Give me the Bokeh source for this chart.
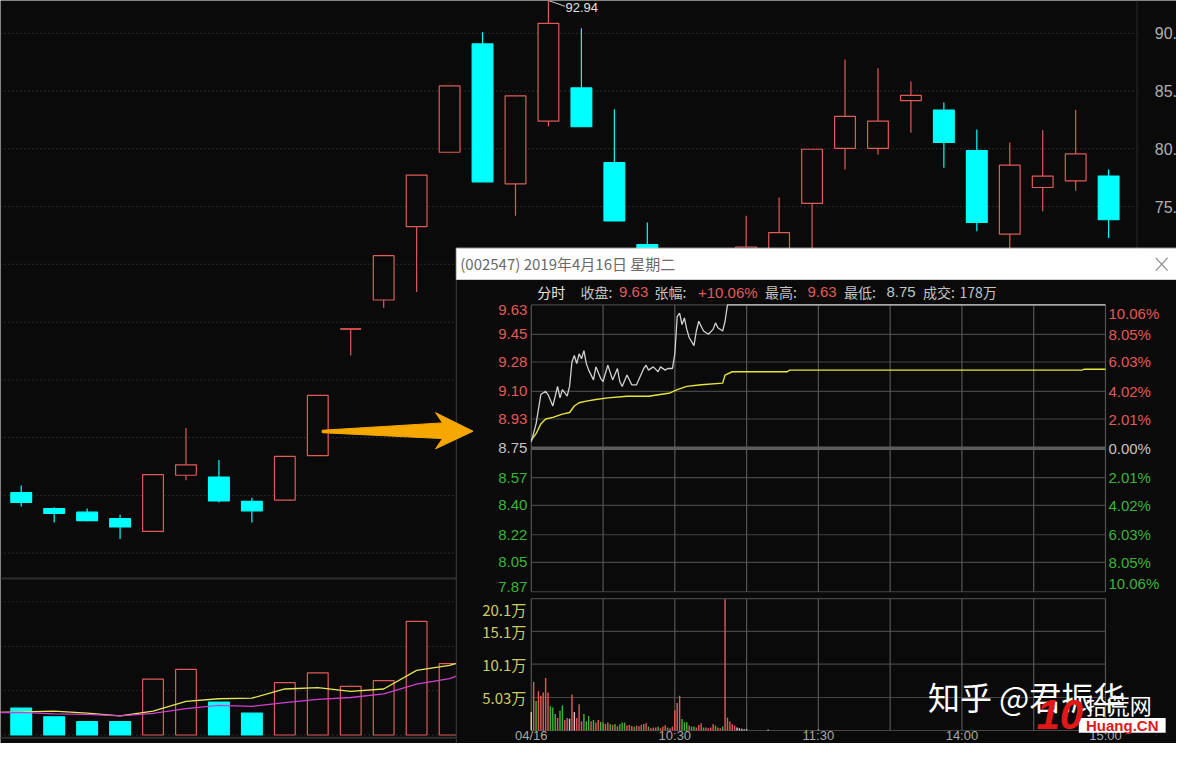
from bokeh.plotting import figure
from bokeh.models import Range1d, ColumnDataSource
from bokeh.embed import file_html
from bokeh.resources import INLINE
from bokeh.core.properties import value

# ---------------- data: daily candles (background chart) ----------------
day_idx = list(range(1, 35))
day_open = [50.24, 48.86, 48.54, 47.98, 46.88, 51.74, 51.59, 49.47, 49.59, 53.43,
            64.40, 66.91, 73.26, 79.70, 89.08, 76.97, 82.39, 85.27, 78.80, 71.71,
            68.30, 66.20, 68.60, 70.20, 75.27, 80.04, 80.04, 84.17, 83.35, 79.85,
            72.61, 76.65, 77.22, 77.64]
day_close = [49.39, 48.43, 47.81, 47.27, 51.80, 52.64, 49.51, 48.66, 53.37, 58.66,
             64.40, 70.75, 77.73, 85.44, 77.14, 84.59, 90.86, 81.91, 73.75, 68.50,
             66.00, 68.40, 71.50, 72.75, 79.96, 82.81, 82.39, 84.62, 80.55, 73.63,
             78.58, 77.64, 79.56, 73.86]
day_high = [50.86, 48.97, 48.86, 48.32, 51.80, 55.83, 53.07, 49.79, 53.37, 58.66,
            64.40, 70.75, 77.73, 85.44, 90.10, 84.59, 92.94, 90.44, 83.43, 73.63,
            69.50, 70.10, 74.20, 75.78, 79.96, 87.73, 86.97, 85.83, 84.00, 81.68,
            80.55, 81.60, 83.37, 78.20]
day_low = [49.03, 47.64, 47.75, 46.23, 46.88, 51.31, 49.39, 47.64, 49.59, 53.43,
           62.10, 66.23, 67.61, 79.70, 77.14, 74.20, 81.93, 81.91, 73.75, 67.80,
           65.20, 65.60, 67.90, 69.50, 70.80, 78.20, 79.48, 81.40, 78.37, 72.86,
           71.40, 74.59, 76.37, 72.27]
bg_price_grid = [90, 85, 80, 75, 70, 65, 60, 55, 50, 45]
bg_price_labels = ["90.", "85.", "80.", "75."]
bg_label_vals = [90, 85, 80, 75]
peak_label = "92.94"
peak_day = 17

# daily volume (万) and its moving averages
vol_idx = list(range(1, 15))
day_vol = [76.8, 52.3, 38.2, 38.2, 160, 188, 94.5, 62.7, 150, 178, 139.5, 156, 326, 205]
ma_idx = list(range(0, 16))
vol_ma5 = [64.4, 66.3, 68.3, 62.7, 55.1, 68.3, 96.4, 104.0, 105.7, 132.0, 135.7, 125.3,
           132.0, 185.5, 199.5, 228]
vol_ma10 = [64.4, 64.6, 60.7, 59.0, 55.1, 61.8, 75.9, 85.1, 82.3, 92.7, 102.0, 107.6,
            118.0, 146.1, 161.9, 196]
bg_vol_grid = [0, 127, 254, 382]

# ---------------- data: intraday popup (2019-04-16) ----------------
title_text = "(002547) 2019年4月16日 星期二"
prev_close = 8.75
close_px = "9.63"
chg_txt = "+10.06%"
high_px = "9.63"
low_px = "8.75"
amount_txt = "178万"

price_ticks = [9.63, 9.45, 9.28, 9.10, 8.93, 8.75, 8.57, 8.40, 8.22, 8.05, 7.87]
price_labels = ["9.63", "9.45", "9.28", "9.10", "8.93", "8.75", "8.57", "8.40", "8.22", "8.05", "7.87"]
pct_labels = ["10.06%", "8.05%", "6.03%", "4.02%", "2.01%", "0.00%", "2.01%", "4.02%",
              "6.03%", "8.05%", "10.06%"]
vol_ticks = [20.1, 15.1, 10.1, 5.03]
vol_tick_labels = ["20.1万", "15.1万", "10.1万", "5.03万"]
minute_grid = [0, 30, 60, 90, 120, 150, 180, 210, 240]
time_ticks = [0, 60, 120, 180, 240]
time_labels = ["04/16", "10:30", "11:30", "14:00", "15:00"]

ip_min = [0, 2, 4, 6, 7, 9, 11, 12, 13, 15, 16, 17, 18, 19, 20, 21, 22, 23, 24, 26, 27, 29,
          30, 32, 34, 36, 37, 38, 40, 42, 44, 47, 48, 49, 51, 53, 54, 56, 57, 59, 60, 61,
          62, 63, 64, 65, 66, 68, 69, 70, 72, 74, 76, 77, 78, 80, 81, 82, 240]
ip_price = [8.79, 8.90, 9.08, 9.10, 9.08, 9.01, 9.13, 9.06, 9.11, 9.07, 9.13, 9.28, 9.32,
            9.27, 9.33, 9.30, 9.35, 9.27, 9.23, 9.17, 9.25, 9.18, 9.16, 9.26, 9.17, 9.24,
            9.16, 9.13, 9.20, 9.14, 9.14, 9.24, 9.26, 9.23, 9.25, 9.22, 9.25, 9.23, 9.24,
            9.24, 9.33, 9.56, 9.58, 9.51, 9.55, 9.48, 9.43, 9.38, 9.47, 9.53, 9.47, 9.45,
            9.48, 9.52, 9.49, 9.47, 9.53, 9.63, 9.63]
avg_min = [0, 2, 4, 6, 9, 13, 16, 18, 20, 23, 27, 32, 40, 49, 58, 61, 65, 71, 80, 81, 84,
           90, 107, 108, 230, 231, 240]
avg_price = [8.80, 8.84, 8.90, 8.93, 8.94, 8.96, 8.97, 9.01, 9.03, 9.04, 9.05, 9.06, 9.07,
             9.07, 9.09, 9.11, 9.13, 9.14, 9.15, 9.20, 9.22, 9.22, 9.22, 9.23, 9.23, 9.235,
             9.235]

iv_min = list(range(0, 91)) + [99, 115, 120]
iv_vol = [2.8, 7.4, 4.5, 6.0, 5.3, 5.8, 8.0, 5.8, 3.7, 3.5,
          2.5, 1.9, 3.0, 3.8, 1.6, 1.9, 1.8, 5.5, 2.8, 1.9,
          4.0, 1.4, 2.5, 1.4, 2.2, 1.4, 1.6, 1.2, 1.6, 1.3,
          1.2, 1.0, 1.2, 0.95, 0.85, 1.0, 0.65, 0.95, 1.2, 1.2,
          0.75, 0.85, 0.7, 0.55, 0.75, 0.65, 0.85, 1.0, 1.1, 0.6,
          0.35, 0.45, 0.45, 0.55, 0.35, 0.6, 0.8, 0.45, 0.35, 0.6,
          3.1, 4.2, 5.3, 1.75, 1.25, 1.25, 0.75, 0.6, 0.6, 0.45,
          0.85, 1.1, 0.45, 0.45, 0.35, 0.45, 0.95, 0.75, 0.45, 0.35,
          0.6, 20.0, 1.95, 1.35, 0.95, 0.75, 0.45, 0.35, 0.25, 0.2,
          0.2, 0.15, 0.1, 0.15]
# r = up minute (red), g = down minute (green), w = unchanged
iv_dir = ("wrgrrrrrgg" + "grggrrwrwr" + "rrgggrgrrg" + "grrgrgrggg" + "rrrgrrrrrg"
          + "rrrgrrrgrr" + "rrrgggrggr" + "rrgrrrrgrr" + "grrrrrwwww" + "w" + "www")

watermark = "知乎 @君振华"

# ---------------- styling / layout ----------------
RW, RH = 1192, 759          # reference layout space (pixels)
W, H = 1176, 743
BG = "#0a0a0a"
RED = "#e05a5a"
CYAN = "#00ffff"
GREEN = "#3cb43c"
GREY_TXT = "#c4c4c4"
LAT = "Liberation Sans"
CJK = "Noto Sans CJK SC"


def xmap(d0, p0, d1, p1):
    k = (d1 - d0) / (p1 - p0)
    return Range1d(start=d0 - p0 * k, end=d0 + (RW - p0) * k)


def ymap(d_top, p_top, d_bot, p_bot):
    k = (d_top - d_bot) / (p_bot - p_top)
    return Range1d(start=d_bot - (RH - p_bot) * k, end=d_bot + p_bot * k)


p = figure(width=W, height=H, x_range=Range1d(0, RW), y_range=Range1d(RH, 0),
           output_backend="svg", toolbar_location=None, min_border=0,
           x_axis_location=None, y_axis_location=None,
           background_fill_color=BG, border_fill_color=BG, outline_line_color=None)
for g in p.grid:
    g.visible = False

p.extra_x_ranges = {"bg": xmap(1, 21, 34, 1123.2), "id": xmap(0, 538, 240, 1120)}
p.extra_y_ranges = {"bgp": ymap(90, 33.5, 45, 564.5), "bgv": ymap(382, 614.3, 0, 750.3),
                    "idp": ymap(9.63, 311, 7.87, 604), "idv": ymap(20.1, 611, 0, 745.7)}


def txt(x, y, s, color, size, font=LAT, align="left", baseline="middle",
        xr="default", yr="default", style="normal", x_offset=0):
    n = len(s)
    p.text(x=x if isinstance(x, list) else [x] * n, y=y if isinstance(y, list) else [y] * n,
           text=s, text_color=color, text_font=value(font), text_font_size=f"{size}px",
           text_align=align, text_baseline=baseline, x_range_name=xr, y_range_name=yr,
           text_font_style=style, x_offset=x_offset)


# ---------------- background daily chart ----------------
BG_RIGHT = 1152
p.segment(x0=0, x1=BG_RIGHT, y0=bg_price_grid, y1=bg_price_grid, y_range_name="bgp",
          line_color="#4a4a4a", line_dash="1 3", line_width=1)
p.segment(x0=0, x1=BG_RIGHT, y0=bg_vol_grid, y1=bg_vol_grid, y_range_name="bgv",
          line_color="#4a4a4a", line_dash="1 3", line_width=1)
p.segment(x0=[0, 0], x1=[BG_RIGHT, BG_RIGHT], y0=[590.5, 753], y1=[590.5, 753],
          line_color="#2e2e2e", line_width=2)
p.segment(x0=[BG_RIGHT], x1=[BG_RIGHT], y0=[0], y1=[RH], line_color="#2a2a2a", line_width=1)

up = [c >= o for o, c in zip(day_open, day_close)]
csrc = ColumnDataSource(dict(
    x=day_idx, h=day_high, l=day_low,
    top=[max(o, c) for o, c in zip(day_open, day_close)],
    bot=[min(o, c) for o, c in zip(day_open, day_close)],
    color=[RED if u else CYAN for u in up],
    fill=[BG if u else CYAN for u in up]))
p.segment(x0="x", x1="x", y0="h", y1="l", line_color="color", line_width=1.2,
          source=csrc, x_range_name="bg", y_range_name="bgp")
p.vbar(x="x", top="top", bottom="bot", width=0.63, fill_color="fill", line_color="color",
       line_width=1.2, source=csrc, x_range_name="bg", y_range_name="bgp")
doji = [i for i, (o, c) in enumerate(zip(day_open, day_close)) if o == c]
p.segment(x0=[day_idx[i] - 0.315 for i in doji], x1=[day_idx[i] + 0.315 for i in doji],
          y0=[day_close[i] for i in doji], y1=[day_close[i] for i in doji],
          line_color=RED, line_width=1.5, x_range_name="bg", y_range_name="bgp")

# peak annotation
pk = day_idx.index(peak_day)
p.segment(x0=[peak_day], y0=[day_high[pk] - 0.1], x1=[peak_day + 0.5], y1=[day_high[pk] - 0.6],
          line_color="#d0d0d0", line_width=1, x_range_name="bg", y_range_name="bgp")
txt(peak_day, day_high[pk] - 0.3, [peak_label], "#e0e0e0", 13, baseline="top",
    xr="bg", yr="bgp", x_offset=17)
txt(1170, bg_label_vals, bg_price_labels, "#b0b0b0", 16, yr="bgp")

# volume bars + MAs
vup = [up[day_idx.index(d)] for d in vol_idx]
p.vbar(x=vol_idx, top=day_vol, bottom=0, width=0.63,
       fill_color=[BG if u else CYAN for u in vup], line_color=[RED if u else CYAN for u in vup],
       line_width=1.2, x_range_name="bg", y_range_name="bgv")
p.line(ma_idx, vol_ma5, line_color="#e6e65a", line_width=1.3, x_range_name="bg", y_range_name="bgv")
p.line(ma_idx, vol_ma10, line_color="#d040d0", line_width=1.3, x_range_name="bg", y_range_name="bgv")

# ---------------- popup ----------------
p.quad(left=[462], right=[RW + 5], top=[285], bottom=[RH + 5], fill_color=BG,
       line_color="#3c3c3c", line_width=1)
p.quad(left=[462], right=[RW + 5], top=[253], bottom=[285], fill_color="#ffffff",
       line_color="#d0d0d0")
txt(466, 269, [title_text], "#6a6a6a", 15, font=CJK)
p.segment(x0=[1171, 1171], y0=[263, 276], x1=[1183, 1183], y1=[276, 263],
          line_color="#8a8a8a", line_width=1.2)

# arrow (decoration)
p.patch(x=[326, 448, 441, 479, 441, 448, 326], y=[439, 431.5, 421, 440, 458, 447.5, 441.5],
        fill_color="#f7a800", line_color="#f7a800", line_width=1)

# header row
hy = 298
txt(544, hy, ["分时"], "#e6e6e6", 14, font=CJK)
txt(588, hy, ["收盘:"], GREY_TXT, 14, font=CJK)
txt(627, hy, [close_px], RED, 15)
txt(663, hy, ["张幅:"], GREY_TXT, 14, font=CJK)
txt(707, hy, [chg_txt], RED, 15)
txt(775, hy, ["最高:"], GREY_TXT, 14, font=CJK)
txt(818, hy, [high_px], RED, 15)
txt(855, hy, ["最低:"], GREY_TXT, 14, font=CJK)
txt(898, hy, [low_px], GREY_TXT, 15)
txt(935, hy, ["成交:"], GREY_TXT, 14, font=CJK)
txt(972, hy, [amount_txt], GREY_TXT, 14, font=CJK)

# price panel grid
p.segment(x0=0, x1=240, y0=price_ticks, y1=price_ticks, line_color="#444444",
          line_width=1.2, x_range_name="id", y_range_name="idp")
p.segment(x0=minute_grid, x1=minute_grid, y0=price_ticks[-1], y1=price_ticks[0],
          line_color="#555555", line_width=1.2, x_range_name="id", y_range_name="idp")
p.segment(x0=[0], x1=[240], y0=[prev_close], y1=[prev_close], line_color="#5c5c5c",
          line_width=3.5, x_range_name="id", y_range_name="idp")

# volume panel grid
vgrid = [0] + vol_ticks
p.segment(x0=0, x1=240, y0=vgrid, y1=vgrid, line_color="#444444", line_width=1.2,
          x_range_name="id", y_range_name="idv")
p.segment(x0=minute_grid, x1=minute_grid, y0=0, y1=vol_ticks[0], line_color="#555555",
          line_width=1.2, x_range_name="id", y_range_name="idv")


# tick labels (price / percent)
def col_for(v):
    return RED if v > prev_close + 1e-9 else (GREEN if v < prev_close - 1e-9 else GREY_TXT)


pcols = [col_for(v) for v in price_ticks]
for i, (v, lab, pl) in enumerate(zip(price_ticks, price_labels, pct_labels)):
    bl = "top" if i == 0 else ("bottom" if i == len(price_ticks) - 1 else "middle")
    txt(534, v, [lab], pcols[i], 15, align="right", baseline=bl, yr="idp")
    txt(1123, v, [pl], pcols[i], 15, align="left", baseline=bl, yr="idp")
for i, (v, lab) in enumerate(zip(vol_ticks, vol_tick_labels)):
    bl = "top" if i == 0 else "middle"
    txt(533, v, [lab], "#cccc66", 15, font=CJK, align="right", baseline=bl, yr="idv")
txt(time_ticks, 758, time_labels, "#a8a8a8", 13, align="center", baseline="bottom", xr="id")

# intraday volume bars
cmap = {"r": "#e0585a", "g": "#3cb43c", "w": "#d8c4c4"}
p.vbar(x=iv_min, top=iv_vol, bottom=0, width=0.6,
       fill_color=[cmap[c] for c in iv_dir], line_color=None,
       x_range_name="id", y_range_name="idv")

# price + average lines
p.line(avg_min, avg_price, line_color="#e6e63c", line_width=1.4, x_range_name="id", y_range_name="idp")
p.line(ip_min, ip_price, line_color="#d0d0d0", line_width=1.3, x_range_name="id", y_range_name="idp")

# ---------------- watermark ----------------
txt(940, 710, [watermark], "#ffffff", 32, font=CJK)
p.quad(left=[1093], right=[1181], top=[733], bottom=[748], fill_color="#ffffff", line_color=None)
txt(1137, 741, ["Huang.CN"], "#e01818", 15, align="center", style="bold")
txt(1050, 729, ["10"], "#e01818", 42, align="left", style="bold italic")
txt(1100, 719, ["拾荒网"], "#ffffff", 22, font=CJK)

open("out.html", "w").write(file_html(p, INLINE))
